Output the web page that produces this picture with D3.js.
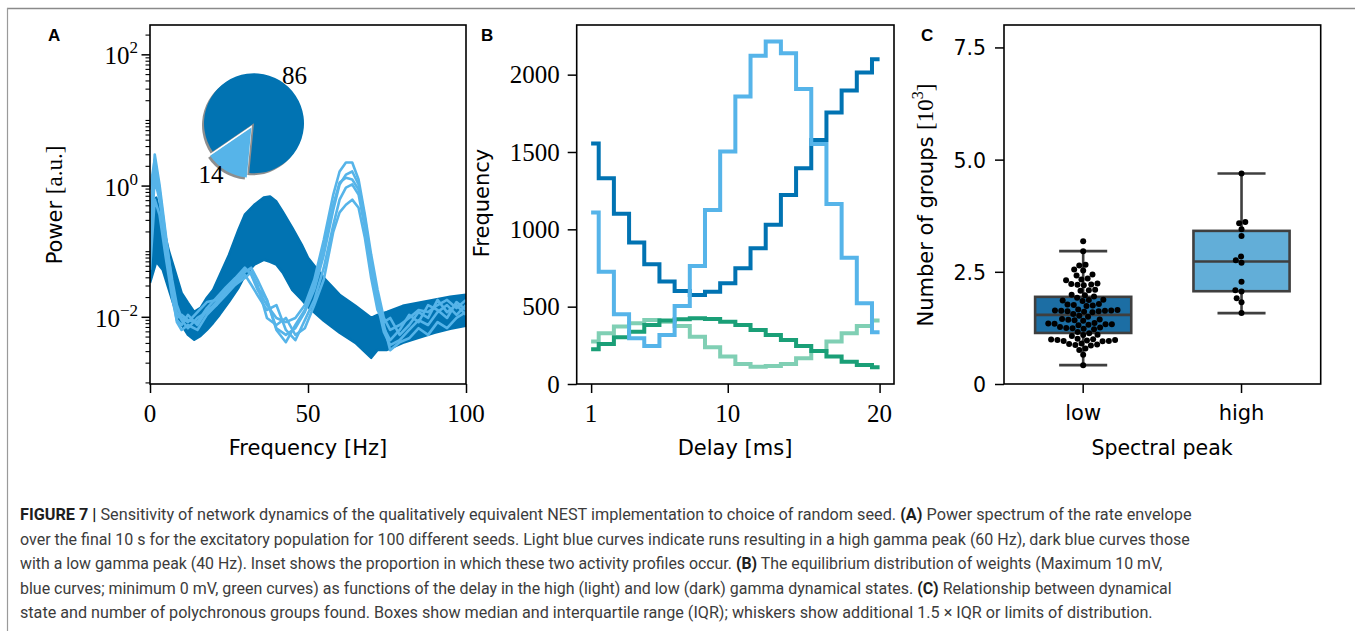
<!DOCTYPE html>
<html><head><meta charset="utf-8">
<script src="https://cdn.jsdelivr.net/npm/d3@7"></script>
<style>body{margin:0;background:#fff} svg{display:block}</style>
</head><body>
<svg id="fig" width="1355" height="631"></svg>
<script>
// ================= DATA =================
// Panel A inset pie
const pieValues = [86, 14];
const pieLabels = ["86", "14"];

// Panel A: envelope of the 86 low-gamma (dark) spectra, power [a.u.]
const darkFreq  = [0,2,4,6,8,10,12,14,16,18,20,22,25,28,30,33,36,38,40,42,45,48,50,55,60,65,70,72,75,80,85,90,95,100];
const darkUpper = [0.51,0.656,0.25,0.1,0.0486,0.0232,0.0164,0.0119,0.0137,0.0195,0.0258,0.0423,0.0885,0.213,0.36,0.51,0.656,0.68,0.57,0.40,0.228,0.126,0.0796,0.0394,0.0217,0.0147,0.00966,0.0107,0.0119,0.0147,0.0164,0.0182,0.0202,0.0217];
const darkLower = [0.033,0.069,0.0522,0.0258,0.0128,0.00755,0.00531,0.00446,0.00513,0.00633,0.0081,0.0107,0.0169,0.0277,0.0423,0.0622,0.074,0.069,0.0622,0.047,0.0258,0.0182,0.0142,0.0087,0.0057,0.004,0.00237,0.00313,0.00313,0.004,0.00478,0.0057,0.00656,0.0073];

// Panel A: representative high-gamma (light) spectra
const lightFreq = [0,1.5,3,5,7,8.5,10,12,15,18,21,24,27,30,32,34,37,40,43,46,49,52,55,58,60,62,64,66,68,70,72,74,76,79,82,85,88,91,94,97,100];
const light1 = [0.21,2.98,1.04,0.178,0.031,0.0096,0.0107,0.0089,0.0083,0.0136,0.0194,0.028,0.039,0.056,0.044,0.026,0.0151,0.0096,0.0083,0.0096,0.0151,0.037,0.149,0.73,1.64,2.25,2.25,1.24,0.36,0.088,0.026,0.0096,0.0063,0.0075,0.0096,0.0127,0.0118,0.0151,0.0181,0.0136,0.0181];
const light2 = [0.105,1.24,0.61,0.125,0.026,0.0118,0.0089,0.0067,0.0096,0.0118,0.0168,0.026,0.034,0.048,0.056,0.037,0.0181,0.0067,0.0053,0.0067,0.0118,0.026,0.088,0.43,1.04,1.47,1.64,1.04,0.32,0.069,0.0181,0.0067,0.0044,0.0063,0.0107,0.0083,0.0151,0.0127,0.0096,0.0168,0.0127];
const light3 = [0.052,0.61,0.36,0.079,0.0194,0.0089,0.0075,0.0107,0.0075,0.0127,0.0151,0.0215,0.031,0.044,0.031,0.0215,0.0127,0.0151,0.0063,0.0044,0.0089,0.0181,0.056,0.25,0.61,0.93,1.04,0.73,0.23,0.052,0.0151,0.0059,0.0037,0.0044,0.0063,0.0089,0.0075,0.0118,0.0151,0.0107,0.0151];
const light4 = [0.36,1.76,0.73,0.149,0.037,0.0151,0.0096,0.0083,0.0118,0.0168,0.0181,0.024,0.037,0.052,0.048,0.031,0.0096,0.0075,0.0096,0.0053,0.0067,0.0151,0.037,0.198,0.39,0.51,0.61,0.46,0.160,0.039,0.0127,0.0083,0.0096,0.0053,0.0075,0.0118,0.0096,0.0181,0.0118,0.0151,0.0107];
const light5 = [0.87,2.50,0.87,0.160,0.024,0.0083,0.0063,0.0075,0.0063,0.0107,0.0151,0.024,0.031,0.039,0.048,0.028,0.0181,0.0063,0.0041,0.0075,0.0127,0.031,0.113,0.51,1.11,1.32,1.24,0.87,0.28,0.062,0.0194,0.0075,0.0031,0.0041,0.0047,0.0067,0.0053,0.0083,0.0067,0.0096,0.0118];
const aYMajor = [-2, 0, 2];          // exponents of labelled ticks
const aXTicks = [0, 50, 100];

// Panel B: weight distributions vs delay
const delays  = [1,2,3,4,5,6,7,8,9,10,11,12,13,14,15,16,17,18,19,20];
const lowMax  = [1555,1330,1100,915,774,662,601,576,597,651,748,878,1030,1222,1395,1578,1755,1897,2014,2100];
const highMax = [1108,726,451,296,246,317,505,763,1125,1503,1858,2122,2214,2139,1908,1552,1164,817,522,334];
const lowMin  = [224,259,302,338,382,410,418,425,420,403,382,349,317,285,246,213,177,144,123,108];
const highMin = [274,328,371,393,414,403,375,306,237,177,129,112,116,129,166,213,274,328,375,410];
const bYTicks = [0, 500, 1000, 1500, 2000];
const bXTicks = [1, 10, 20];

// Panel C: number of polychronous groups [10^3]
const peakCategories = ["low", "high"];
const lowGroups = [0.42,0.65,0.76,0.79,0.86,0.87,0.88,0.89,0.90,0.95,0.96,0.96,0.97,0.98,0.98,0.99,1.00,1.01,1.07,1.09,1.10,1.13,
  1.16,1.22,1.23,1.24,1.25,1.26,1.27,1.31,1.32,1.33,1.33,1.34,1.35,1.36,1.41,1.42,1.43,1.44,1.45,1.50,1.52,
  1.56,1.60,1.61,1.62,1.62,1.63,1.63,1.64,1.64,1.65,1.66,1.74,1.75,1.76,1.77,1.78,1.85,1.86,1.87,1.88,1.92,
  1.95,1.98,1.99,2.08,2.09,2.10,2.20,2.21,2.22,2.23,2.24,2.31,2.33,2.35,2.42,2.44,2.53,2.55,2.64,2.66,2.96,3.18];
const highGroups = [4.69,3.61,3.58,3.45,3.30,2.84,2.76,2.70,2.28,2.09,2.06,1.91,1.82,1.58];
const cYTicks = [0, 2.5, 5.0, 7.5];
const cYTickLabels = ["0", "2.5", "5.0", "7.5"];

// Caption
const captionLines = [
  [["FIGURE 7 |", true], [" Sensitivity of network dynamics of the qualitatively equivalent NEST implementation to choice of random seed. ", false], ["(A)", true], [" Power spectrum of the rate envelope", false]],
  [["over the final 10 s for the excitatory population for 100 different seeds. Light blue curves indicate runs resulting in a high gamma peak (60 Hz), dark blue curves those", false]],
  [["with a low gamma peak (40 Hz). Inset shows the proportion in which these two activity profiles occur. ", false], ["(B)", true], [" The equilibrium distribution of weights (Maximum 10 mV,", false]],
  [["blue curves; minimum 0 mV, green curves) as functions of the delay in the high (light) and low (dark) gamma dynamical states. ", false], ["(C)", true], [" Relationship between dynamical", false]],
  [["state and number of polychronous groups found. Boxes show median and interquartile range (IQR); whiskers show additional 1.5 × IQR or limits of distribution.", false]]
];
const captionEnds = [1192, 1190, 1163, 1173, 1153];

// ================= STYLE =================
const DARK = "#0173b2", LIGHT = "#56b4e9", GREEN = "#1a9f77", LGREEN = "#80cfb4";
const SERIF = "'Liberation Serif','DejaVu Serif',serif";
const SANS = "'DejaVu Sans','Liberation Sans',sans-serif";
const svg = d3.select("#fig");
svg.append("rect").attr("width",1355).attr("height",631).attr("fill","#fff");
// figure frame
svg.append("line").attr("x1",7).attr("x2",1355).attr("y1",8.5).attr("y2",8.5).attr("stroke","#8a8a8a").attr("stroke-width",1.5);
svg.append("line").attr("x1",7.5).attr("x2",7.5).attr("y1",8).attr("y2",631).attr("stroke","#9a9a9a").attr("stroke-width",1.2);

const TOP = 25, BOT = 384;

function frame(g, x0, x1) {
  g.append("rect").attr("x",x0).attr("y",TOP).attr("width",x1-x0).attr("height",BOT-TOP)
   .attr("fill","none").attr("stroke","#000").attr("stroke-width",1.6);
}
function styleAxis(sel) {
  sel.select(".domain").remove();
  sel.selectAll(".tick line").attr("stroke","#000").attr("stroke-width",1.5);
}
function panelLetter(t, x) {
  svg.append("text").attr("x",x).attr("y",41).text(t)
    .attr("font-family","'Liberation Sans',Arial,sans-serif").attr("font-weight","bold").attr("font-size",17);
}

// ================= PANEL A =================
(function(){
  const x0 = 150, x1 = 466;
  const x = d3.scaleLinear().domain([0,100]).range([x0,x1]);
  const y = d3.scaleLog().domain([0.000946, 280]).range([BOT, TOP]);
  const g = svg.append("g");
  g.append("clipPath").attr("id","clipA").append("rect").attr("x",x0).attr("y",TOP).attr("width",x1-x0).attr("height",BOT-TOP);
  const plot = g.append("g").attr("clip-path","url(#clipA)");

  const darkRows = darkFreq.map((f,i)=>({f, hi: darkUpper[i], lo: darkLower[i]}));
  plot.append("path").datum(darkRows)
    .attr("d", d3.area().x(d=>x(d.f)).y0(d=>y(d.lo)).y1(d=>y(d.hi)))
    .attr("fill", DARK);
  [darkUpper, darkLower].forEach(arr=>{
    plot.append("path").datum(darkFreq.map((f,i)=>[f, arr[i]]))
      .attr("d", d3.line().x(d=>x(d[0])).y(d=>y(d[1])))
      .attr("fill","none").attr("stroke",DARK).attr("stroke-width",2.5).attr("stroke-linejoin","round");
  });
  [light1, light2, light3, light4, light5].forEach(arr=>{
    plot.append("path").datum(lightFreq.map((f,i)=>[f, arr[i]]))
      .attr("d", d3.line().x(d=>x(d[0])).y(d=>y(d[1])))
      .attr("fill","none").attr("stroke",LIGHT).attr("stroke-width",2.6).attr("stroke-linejoin","round");
  });

  // minor ticks
  const minor = [];
  for (let k=-4;k<=3;k++) for (let m=1;m<=9;m++) {
    const v = m*Math.pow(10,k);
    if (v>=0.000946 && v<=280 && !(m===1 && aYMajor.includes(k))) minor.push(v);
  }
  const ga = g.append("g").attr("transform",`translate(${x0},0)`)
    .call(d3.axisLeft(y).tickValues(minor).tickSize(4.5).tickFormat(""));
  styleAxis(ga); ga.selectAll(".tick line").attr("stroke-width",1.1);
  const gb = g.append("g").attr("transform",`translate(${x0},0)`)
    .call(d3.axisLeft(y).tickValues(aYMajor.map(k=>Math.pow(10,k))).tickSize(8.5).tickFormat(""));
  styleAxis(gb);
  aYMajor.forEach(k=>{
    const t = g.append("text").attr("x",138).attr("y",y(Math.pow(10,k))+10)
      .attr("text-anchor","end").attr("font-family",SERIF).attr("font-size",25);
    t.append("tspan").text("10");
    t.append("tspan").attr("dy",-11).attr("font-size",17).text(k<0 ? "\u2212"+(-k) : String(k));
  });
  const gx = g.append("g").attr("transform",`translate(0,${BOT})`)
    .call(d3.axisBottom(x).tickValues(aXTicks).tickSize(9).tickPadding(0).tickFormat(""));
  styleAxis(gx);
  aXTicks.forEach(v=>{
    g.append("text").attr("x",x(v)).attr("y",421.5).attr("text-anchor","middle")
      .attr("font-family",SERIF).attr("font-size",25).text(v);
  });
  frame(g, x0, x1);

  // inset pie
  const cx = 254, cy = 123.3, r = 50, explode = [0, 5];
  const start = 235.8*Math.PI/180;
  const arcs = d3.pie().sort(null).startAngle(start).endAngle(start+2*Math.PI)(pieValues);
  const arc = d3.arc().innerRadius(0).outerRadius(r);
  const pcols = [DARK, LIGHT];
  const pg = g.append("g").attr("transform",`translate(${cx},${cy})`);
  arcs.forEach((a,i)=>{
    const mid = (a.startAngle+a.endAngle)/2;
    const dx = explode[i]*Math.sin(mid), dy = -explode[i]*Math.cos(mid);
    pg.append("path").attr("d",arc(a)).attr("fill","#7a7a7a").attr("opacity",0.85)
      .attr("transform",`translate(${dx-2},${dy+2})`);
  });
  arcs.forEach((a,i)=>{
    const mid = (a.startAngle+a.endAngle)/2;
    const dx = explode[i]*Math.sin(mid), dy = -explode[i]*Math.cos(mid);
    pg.append("path").attr("d",arc(a)).attr("fill",pcols[i]).attr("transform",`translate(${dx},${dy})`);
    const lx = dx + 1.1*r*Math.sin(mid), ly = dy - 1.1*r*Math.cos(mid);
    pg.append("text").attr("x",lx).attr("y",ly+8).attr("text-anchor", Math.sin(mid)>0 ? "start":"end")
      .attr("font-family",SERIF).attr("font-size",25).text(pieLabels[i]);
  });

  // labels
  const yl = svg.append("text").attr("transform","translate(55,205) rotate(-90)").attr("text-anchor","middle")
    .attr("dy","0.35em").attr("font-family",SANS).attr("font-size",21);
  yl.append("tspan").text("Power ");
  yl.append("tspan").attr("font-family",SERIF).attr("font-size",23).text("[a.u.]");
  svg.append("text").attr("x",(x0+x1)/2).attr("y",455).attr("text-anchor","middle")
    .attr("font-family",SANS).attr("font-size",21).text("Frequency [Hz]");
  panelLetter("A", 48);
})();

// ================= PANEL B =================
(function(){
  const x0 = 576.7, x1 = 894;
  const x = d3.scaleLinear().domain([0.05, 20.95]).range([x0,x1]);
  const y = d3.scaleLinear().domain([0, 2321]).range([BOT, TOP]);
  const g = svg.append("g");
  const line = d3.line().curve(d3.curveStep).x(d=>x(d[0])).y(d=>y(d[1]));
  [[highMin, LGREEN],[lowMin, GREEN],[lowMax, DARK],[highMax, LIGHT]].forEach(([arr,c])=>{
    g.append("path").datum(delays.map((d,i)=>[d, arr[i]])).attr("d", line)
      .attr("fill","none").attr("stroke",c).attr("stroke-width",4);
  });
  const gy = g.append("g").attr("transform",`translate(${x0},0)`)
    .call(d3.axisLeft(y).tickValues(bYTicks).tickSize(9).tickPadding(8).tickFormat(d3.format("d")));
  styleAxis(gy);
  gy.selectAll(".tick text").attr("font-family",SERIF).attr("font-size",25).attr("fill","#000").attr("dy","0.33em");
  const gx = g.append("g").attr("transform",`translate(0,${BOT})`)
    .call(d3.axisBottom(x).tickValues(bXTicks).tickSize(9).tickPadding(0).tickFormat(""));
  styleAxis(gx);
  bXTicks.forEach(v=>{
    g.append("text").attr("x",x(v)).attr("y",421.5).attr("text-anchor","middle")
      .attr("font-family",SERIF).attr("font-size",25).text(v);
  });
  frame(g, x0, x1);
  svg.append("text").attr("transform","translate(482,203) rotate(-90)").attr("text-anchor","middle")
    .attr("dy","0.35em").attr("font-family",SANS).attr("font-size",21).text("Frequency");
  svg.append("text").attr("x",735).attr("y",455).attr("text-anchor","middle")
    .attr("font-family",SANS).attr("font-size",21).text("Delay [ms]");
  panelLetter("B", 481);
})();

// ================= PANEL C =================
(function(){
  const x0 = 1004, x1 = 1320.7;
  const x = d3.scaleBand().domain(peakCategories).range([x0,x1]).padding(0);
  const y = d3.scaleLinear().domain([0, 8]).range([BOT, TOP]);
  const g = svg.append("g");
  const fills = {low: "#1c6ea4", high: "#62aed8"};
  const groups = {low: lowGroups, high: highGroups};
  const EDGE = "#3f3f3f";
  peakCategories.forEach(cat=>{
    const vals = groups[cat].slice().sort(d3.ascending);
    const q1 = d3.quantileSorted(vals,0.25), med = d3.quantileSorted(vals,0.5), q3 = d3.quantileSorted(vals,0.75);
    const iqr = q3-q1;
    const wHi = d3.max(vals.filter(v=>v<=q3+1.5*iqr));
    const wLo = d3.min(vals.filter(v=>v>=q1-1.5*iqr));
    const cx = x(cat) + x.bandwidth()/2;
    const bw = x.bandwidth()*0.607;
    const gg = g.append("g");
    gg.append("line").attr("x1",cx).attr("x2",cx).attr("y1",y(q3)).attr("y2",y(wHi)).attr("stroke",EDGE).attr("stroke-width",2.6);
    gg.append("line").attr("x1",cx).attr("x2",cx).attr("y1",y(q1)).attr("y2",y(wLo)).attr("stroke",EDGE).attr("stroke-width",2.6);
    [wHi, wLo].forEach(w=>gg.append("line").attr("x1",cx-bw/4).attr("x2",cx+bw/4).attr("y1",y(w)).attr("y2",y(w))
      .attr("stroke",EDGE).attr("stroke-width",2.6));
    gg.append("rect").attr("x",cx-bw/2).attr("width",bw).attr("y",y(q3)).attr("height",y(q1)-y(q3))
      .attr("fill",fills[cat]).attr("stroke",EDGE).attr("stroke-width",2.6);
    gg.append("line").attr("x1",cx-bw/2).attr("x2",cx+bw/2).attr("y1",y(med)).attr("y2",y(med)).attr("stroke",EDGE).attr("stroke-width",2.6);

    // swarm layout
    const D = 6.3;
    const pts = vals.map(v=>({v, y:y(v)})).sort((a,b)=>b.y-a.y);
    const placed = [];
    pts.forEach(p=>{
      const cands = [0];
      placed.forEach(q=>{
        const dy = p.y-q.y;
        if (Math.abs(dy) < D) { const dx = Math.sqrt(D*D-dy*dy); cands.push(q.x-cx+dx, q.x-cx-dx); }
      });
      cands.sort((a,b)=>Math.abs(a)-Math.abs(b) || a-b);
      for (const c of cands) {
        const px = cx + c;
        if (placed.every(q=>(q.x-px)**2+(q.y-p.y)**2 >= D*D-0.01)) { p.x = px; break; }
      }
      placed.push(p);
    });
    gg.selectAll("circle.pt").data(placed).enter().append("circle").attr("class","pt")
      .attr("cx",d=>d.x).attr("cy",d=>d.y).attr("r",3).attr("fill","#000");
  });
  const gy = g.append("g").attr("transform",`translate(${x0},0)`)
    .call(d3.axisLeft(y).tickValues(cYTicks).tickSize(9).tickPadding(9).tickFormat((d,i)=>cYTickLabels[i]));
  styleAxis(gy);
  gy.selectAll(".tick text").attr("font-family",SANS).attr("font-size",20.5).attr("fill","#000").attr("dy","0.36em");
  const gx = g.append("g").attr("transform",`translate(0,${BOT})`)
    .call(d3.axisBottom(x).tickSize(9).tickPadding(12));
  styleAxis(gx);
  gx.selectAll(".tick text").attr("font-family",SANS).attr("font-size",21).attr("fill","#000");
  frame(g, x0, x1);
  const yl = svg.append("text").attr("transform","translate(926,205) rotate(-90)").attr("text-anchor","middle")
    .attr("dy","0.35em").attr("font-family",SANS).attr("font-size",21);
  yl.append("tspan").text("Number of groups ");
  yl.append("tspan").attr("font-family",SERIF).attr("font-size",23).text("[10");
  yl.append("tspan").attr("font-family",SERIF).attr("font-size",16).attr("dy",-10).text("3");
  yl.append("tspan").attr("font-family",SERIF).attr("font-size",23).attr("dy",10).text("]");
  svg.append("text").attr("x",1162).attr("y",455).attr("text-anchor","middle")
    .attr("font-family",SANS).attr("font-size",20.5).text("Spectral peak");
  panelLetter("C", 921);
})();

// ================= CAPTION =================
// each bold/regular run is its own text element; the font size of a line is chosen so
// the line ends where the reference line ends, and runs are placed by their measured widths
const CAPFONT = "'Liberation Sans Narrow','Roboto','Liberation Sans',sans-serif";
captionLines.forEach((segs, i)=>{
  const yb = 520 + i*24.5;
  const nodes = segs.map(([s,b])=>svg.append("text").attr("y",yb).attr("xml:space","preserve").style("white-space","pre")
      .attr("font-family",CAPFONT).attr("font-size",17.5)
      .attr("fill", b ? "#1e1e1e" : "#3c3c3c").attr("font-weight", b ? "bold" : "normal").text(s));
  const w0 = d3.sum(nodes, t=>t.node().getComputedTextLength());
  const fs = 17.5*(captionEnds[i]-20)/w0;
  nodes.forEach(t=>t.attr("font-size", fs));
  let cx = 20;
  nodes.forEach(t=>{
    t.attr("x", cx);
    cx += t.node().getComputedTextLength();
  });
});
</script>
</body></html>
